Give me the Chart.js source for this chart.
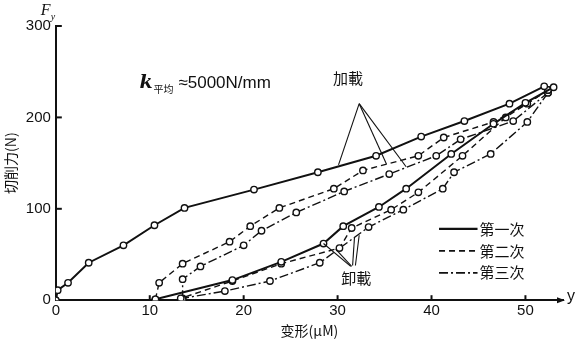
<!DOCTYPE html>
<html lang="zh">
<head>
<meta charset="UTF-8">
<title>切削力-变形</title>
<script src="https://cdn.jsdelivr.net/npm/chart.js"></script>
<style>
  html, body { margin: 0; padding: 0; background: #fff; }
  #wrap { width: 575px; height: 339px; }
</style>
</head>
<body>
<div id="wrap"><canvas id="chart"></canvas></div>
<script>
// axis ticks
const xTicks = [0, 10, 20, 30, 40, 50];
const yTicks = [0, 100, 200, 300];

// 第一次 (solid)
const load1 = [[0,0],[0.2,11],[1.3,19],[3.5,41],[7.2,60],[10.5,82],[13.7,101],[21.1,121],[27.9,140],[34.1,158],[38.9,179],[43.5,196],[48.3,215],[52,234]];
const unload1 = [[53,233],[50,216],[46.6,193],[42.1,160],[37.3,122],[34.4,102],[30.6,81],[28.5,62],[24,42],[18.8,22],[10.6,1]];
// 第二次 (dashed)
const load2 = [[10.6,1],[11,19],[13.5,40],[18.5,64],[20.7,81],[23.8,101],[29.6,122],[32.7,142],[38.6,158],[41.3,178],[46.6,195],[50.2,215],[52.4,230]];
const unload2 = [[52.4,230],[47.9,200],[43.3,158],[38.6,118],[35.7,99],[31.5,79],[30.2,57],[24,40],[18.8,21],[13.3,2]];
// 第三次 (dash-dot)
const load3 = [[13.5,1],[13.5,23],[15.4,37],[20,60],[21.9,76],[25.6,96],[30.7,119],[35.5,138],[40.5,158],[43.1,176],[48.7,196],[52.4,227]];
const unload3 = [[52.4,227],[50.2,195],[46.3,160],[42.4,140],[41.2,122],[37,99],[33.3,80],[28.1,41],[22.8,21],[18,10],[13.5,2]];

const legendNames = ['第一次', '第二次', '第三次'];
const styles = [
  { dash: [], width: 2 },
  { dash: [6, 4], width: 1.4 },
  { dash: [9, 3, 2, 3], width: 1.4 }
];

function series(points, s) {
  return {
    data: points.map(p => ({ x: p[0], y: p[1] })),
    borderColor: '#111',
    borderWidth: s.width,
    borderDash: s.dash,
    pointRadius: 3.2,
    pointBorderWidth: 1.4,
    pointBackgroundColor: '#fff',
    pointBorderColor: '#111',
    showLine: true,
    tension: 0
  };
}

const datasets = [
  series(load1, styles[0]), series(unload1, styles[0]),
  series(load2, styles[1]), series(unload2, styles[1]),
  series(load3, styles[2]), series(unload3, styles[2])
];

const cjk = '"Noto Sans CJK SC", sans-serif';

const extras = {
  id: 'extras',
  afterDraw(chart) {
    const { ctx, scales: { x, y } } = chart;
    const X = v => x.getPixelForValue(v), Y = v => y.getPixelForValue(v);
    ctx.save();
    ctx.strokeStyle = '#111';
    ctx.fillStyle = '#111';
    ctx.setLineDash([]);

    // inner tick marks
    ctx.lineWidth = 2;
    xTicks.slice(1).forEach(v => {
      ctx.beginPath(); ctx.moveTo(X(v), Y(0)); ctx.lineTo(X(v), Y(0) - 5); ctx.stroke();
    });
    yTicks.slice(1).forEach(v => {
      ctx.beginPath(); ctx.moveTo(X(0), Y(v)); ctx.lineTo(X(0) + 6, Y(v)); ctx.stroke();
    });

    // arrow at end of x axis
    const ax = x.right, ay = Y(0);
    ctx.beginPath(); ctx.moveTo(ax + 2, ay); ctx.lineTo(ax - 6, ay - 3); ctx.lineTo(ax - 6, ay + 3); ctx.closePath(); ctx.fill();
    ctx.font = '16px "Liberation Sans", Arial, sans-serif';
    ctx.textBaseline = 'alphabetic';
    ctx.fillText('y', ax + 4, ay + 1);

    // F_y
    ctx.font = 'italic 16px "Liberation Serif", serif';
    ctx.fillText('F', X(0) - 15, Y(300) - 11);
    ctx.font = 'italic 10px "Liberation Serif", serif';
    ctx.fillText('y', X(0) - 5, Y(300) - 6);

    // k平均≈5000N/mm
    const kx = X(8.9), ky = Y(232);
    ctx.font = 'bold italic 19px "DejaVu Serif", serif';
    ctx.fillText('k', kx, ky);
    ctx.font = '10px ' + cjk;
    ctx.fillText('平均', kx + 14, ky + 5);
    ctx.font = '17px "Liberation Sans", Arial, sans-serif';
    ctx.fillText('≈5000N/mm', kx + 39, ky);

    // 加載 / 卸載 labels and leaders
    ctx.font = '15px ' + cjk;
    ctx.textAlign = 'center';
    ctx.fillText('加載', X(31.1), Y(236));
    ctx.fillText('卸載', X(32.0), Y(18));
    ctx.lineWidth = 1.1;
    const leaders = [
      [[32.3, 215], [30.1, 148]],
      [[32.3, 215], [35.2, 149]],
      [[32.3, 215], [37.3, 146]],
      [[28.5, 62], [31.4, 37]],
      [[29.8, 56], [31.5, 37]],
      [[31.8, 69], [31.6, 38]],
      [[32.3, 71], [31.9, 38]]
    ];
    leaders.forEach(([a, b]) => {
      ctx.beginPath(); ctx.moveTo(X(a[0]), Y(a[1])); ctx.lineTo(X(b[0]), Y(b[1])); ctx.stroke();
    });

    // legend
    ctx.textAlign = 'left';
    ctx.textBaseline = 'middle';
    ctx.font = '15px ' + cjk;
    const rows = [78, 54, 30];
    legendNames.forEach((name, i) => {
      ctx.lineWidth = styles[i].width + 0.4;
      ctx.setLineDash(styles[i].dash);
      ctx.beginPath(); ctx.moveTo(X(40.8), Y(rows[i])); ctx.lineTo(X(44.9), Y(rows[i])); ctx.stroke();
      ctx.setLineDash([]);
      ctx.fillText(name, X(45.1), Y(rows[i]));
    });
    ctx.restore();
  }
};

new Chart(document.getElementById('chart'), {
  type: 'scatter',
  data: { datasets },
  options: {
    responsive: true,
    maintainAspectRatio: false,
    animation: false,
    layout: { padding: { top: 26, right: 12, left: 2, bottom: 0 } },
    plugins: { legend: { display: false }, tooltip: { enabled: false } },
    scales: {
      x: {
        type: 'linear', min: 0, max: 54,
        afterBuildTicks: s => { s.ticks = xTicks.map(v => ({ value: v })); },
        grid: { display: false, drawTicks: false },
        border: { display: true, color: '#111', width: 2 },
        ticks: { color: '#111', padding: 2, font: { family: '"Liberation Sans", Arial, sans-serif', size: 15 } },
        title: { display: true, text: '变形(μM)', color: '#111', padding: { top: 0, bottom: 0 }, font: { family: cjk, size: 14 } }
      },
      y: {
        type: 'linear', min: 0, max: 300,
        afterBuildTicks: s => { s.ticks = yTicks.map(v => ({ value: v })); },
        grid: { display: false, drawTicks: false },
        border: { display: true, color: '#111', width: 2 },
        ticks: { color: '#111', padding: 5, font: { family: '"Liberation Sans", Arial, sans-serif', size: 15 } },
        title: { display: true, text: '切削力(N)', color: '#111', padding: { top: 0, bottom: 2 }, font: { family: cjk, size: 14 } }
      }
    }
  },
  plugins: [extras]
});
</script>
</body>
</html>
